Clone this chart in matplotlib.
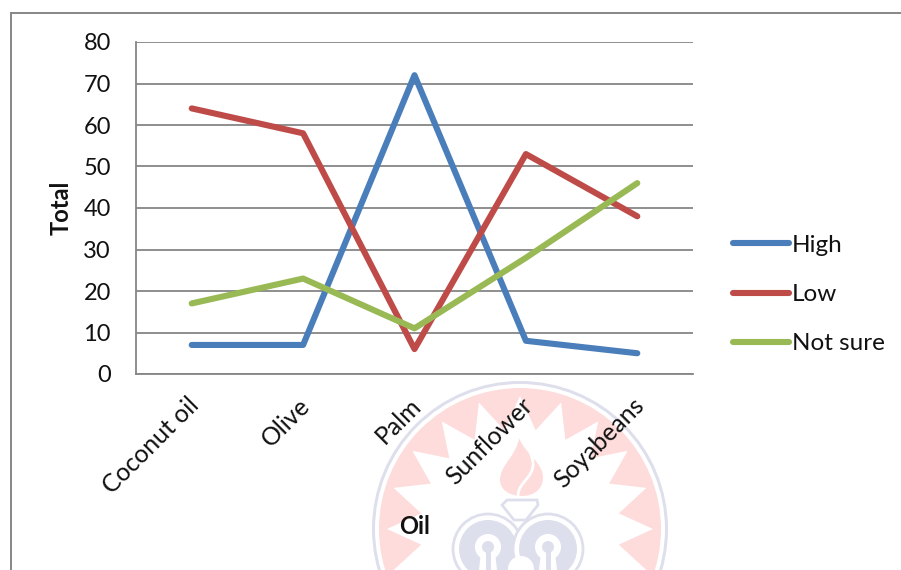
import matplotlib
matplotlib.use("Agg")
import matplotlib.pyplot as plt
import numpy as np
from matplotlib.patches import Circle, Polygon, Rectangle, PathPatch
from matplotlib.path import Path
from matplotlib.transforms import ScaledTranslation

oils = ["Coconut oil", "Olive", "Palm", "Sunflower", "Soyabeans"]
high = [7, 7, 72, 8, 5]
low = [64, 58, 6, 53, 38]
not_sure = [17, 23, 11, 28, 46]
y_ticks = [0, 10, 20, 30, 40, 50, 60, 70, 80]

W, H = 901, 570
BLUE, RED, GREEN = "#4A7EBB", "#BE4B48", "#98B954"
GRID = "#868686"
PINK, LAV = "#FEDCDB", "#DEDFEC"
INK = "#111111"

plt.rcParams["font.family"] = ["Lato", "DejaVu Sans"]
fig = plt.figure(figsize=(W / 100, H / 100), dpi=100, facecolor="white")

# Backdrop layer in pixel units: outer frame and the institutional emblem
bg = fig.add_axes([0, 0, 1, 1], zorder=0)
bg.set_xlim(0, W)
bg.set_ylim(H, 0)
bg.axis("off")

cx, cy = 520, 529
bg.add_patch(Circle((cx, cy), 148, fc=LAV, ec="none"))
bg.add_patch(Circle((cx, cy), 145, fc="white", ec="none"))
bg.add_patch(Circle((cx, cy), 141, fc=PINK, ec="none"))
angles = np.deg2rad(np.arange(0, 360, 9) + 90)
radii = np.where(np.arange(40) % 2 == 0, 133, 100)
star = np.column_stack([cx + radii * np.cos(angles), cy - radii * np.sin(angles)])
bg.add_patch(Polygon(star, fc="white", ec="none"))

# Flame above the lamp, split by a white S-curve
flame = Path(
    [(519, 438), (517, 455), (500, 465), (500, 480), (500, 490), (510, 496), (522, 496),
     (535, 496), (543, 488), (543, 478), (543, 462), (526, 455), (519, 438)],
    [Path.MOVETO] + [Path.CURVE4] * 12,
)
bg.add_patch(PathPatch(flame, fc=PINK, ec="none"))
wick = Path([(518, 496), (518, 482), (534, 478), (533, 463), (532, 452), (526, 446), (523, 440)],
            [Path.MOVETO] + [Path.CURVE4] * 6)
bg.add_patch(PathPatch(wick, fc="none", ec="white", lw=2))

# Lamp: two outlined lobes with keyhole openings, neck and rim
for lobe_x in (488, 548):
    bg.add_patch(Circle((lobe_x, 549), 35, fc="white", ec=LAV, lw=2))
    bg.add_patch(Circle((lobe_x, 549), 29, fc=LAV, ec="none"))
    bg.add_patch(Circle((lobe_x, 547), 13, fc="white", ec="none"))
    bg.add_patch(Polygon([(lobe_x - 7, 552), (lobe_x + 7, 552), (lobe_x + 9, 570), (lobe_x - 9, 570)],
                         fc="white", ec="none"))
    bg.add_patch(Circle((lobe_x, 547), 6, fc=LAV, ec="none"))
    bg.add_patch(Rectangle((lobe_x - 2.5, 550), 5, 20, fc=LAV, ec="none"))
bg.add_patch(Circle((521, 569), 13, fc="white", ec="none"))
bg.add_patch(Polygon([(502, 505), (507, 500), (537, 500), (538, 505), (526, 520), (514, 520)],
                     fc="white", ec=LAV, lw=2))

bg.plot([10.5, 10.5, W], [H, 13, 13], color=GRID, lw=1.4, solid_joinstyle="miter")

# Chart area
ax = fig.add_axes([136 / W, 1 - 374 / H, (693 - 136) / W, (374 - 42) / H], zorder=1)
ax.patch.set_alpha(0)
x = np.arange(len(oils))
for vals, col, name in [(high, BLUE, "High"), (low, RED, "Low"), (not_sure, GREEN, "Not sure")]:
    ax.plot(x, vals, color=col, lw=4.4, label=name, solid_capstyle="round", solid_joinstyle="round", zorder=3)

ax.set_xlim(-0.5, 4.5)
ax.set_ylim(0, 80)
ax.set_yticks(y_ticks)
ax.set_xticks(x)
ax.tick_params(axis="x", length=0, pad=14)
ax.tick_params(axis="y", length=0, pad=18, labelsize=17, labelcolor=INK)
ax.set_xticklabels(oils, rotation=45, ha="right", va="top", rotation_mode="anchor", fontsize=17.8, color=INK)
# Slide the slanted category labels along their baseline
nudge = ScaledTranslation(-5 / 100, 0, fig.dpi_scale_trans)
for lbl in ax.get_xticklabels():
    lbl.set_transform(lbl.get_transform() + nudge)
ax.grid(axis="y", color=GRID, lw=1.3, zorder=1)
for side in ("top", "right"):
    ax.spines[side].set_visible(False)
for side in ("left", "bottom"):
    ax.spines[side].set_color(GRID)
    ax.spines[side].set_linewidth(1.3)

fig.text(61 / W, 1 - 208 / H, "Total", rotation=90, ha="center", va="center",
         fontsize=17, fontweight="bold", color=INK, zorder=5)
fig.text(415 / W, 1 - 526 / H, "Oil", ha="center", va="center",
         fontsize=17, fontweight="bold", color=INK, zorder=5)

ax.legend(loc="center left", bbox_to_anchor=(733 / W, 1 - 294.5 / H),
          bbox_transform=fig.transFigure, frameon=False, fontsize=17.5,
          handlelength=2.3, handletextpad=0.12, labelspacing=1.16,
          borderpad=0, borderaxespad=0, labelcolor=INK)

fig.savefig("out.png", dpi=100)
